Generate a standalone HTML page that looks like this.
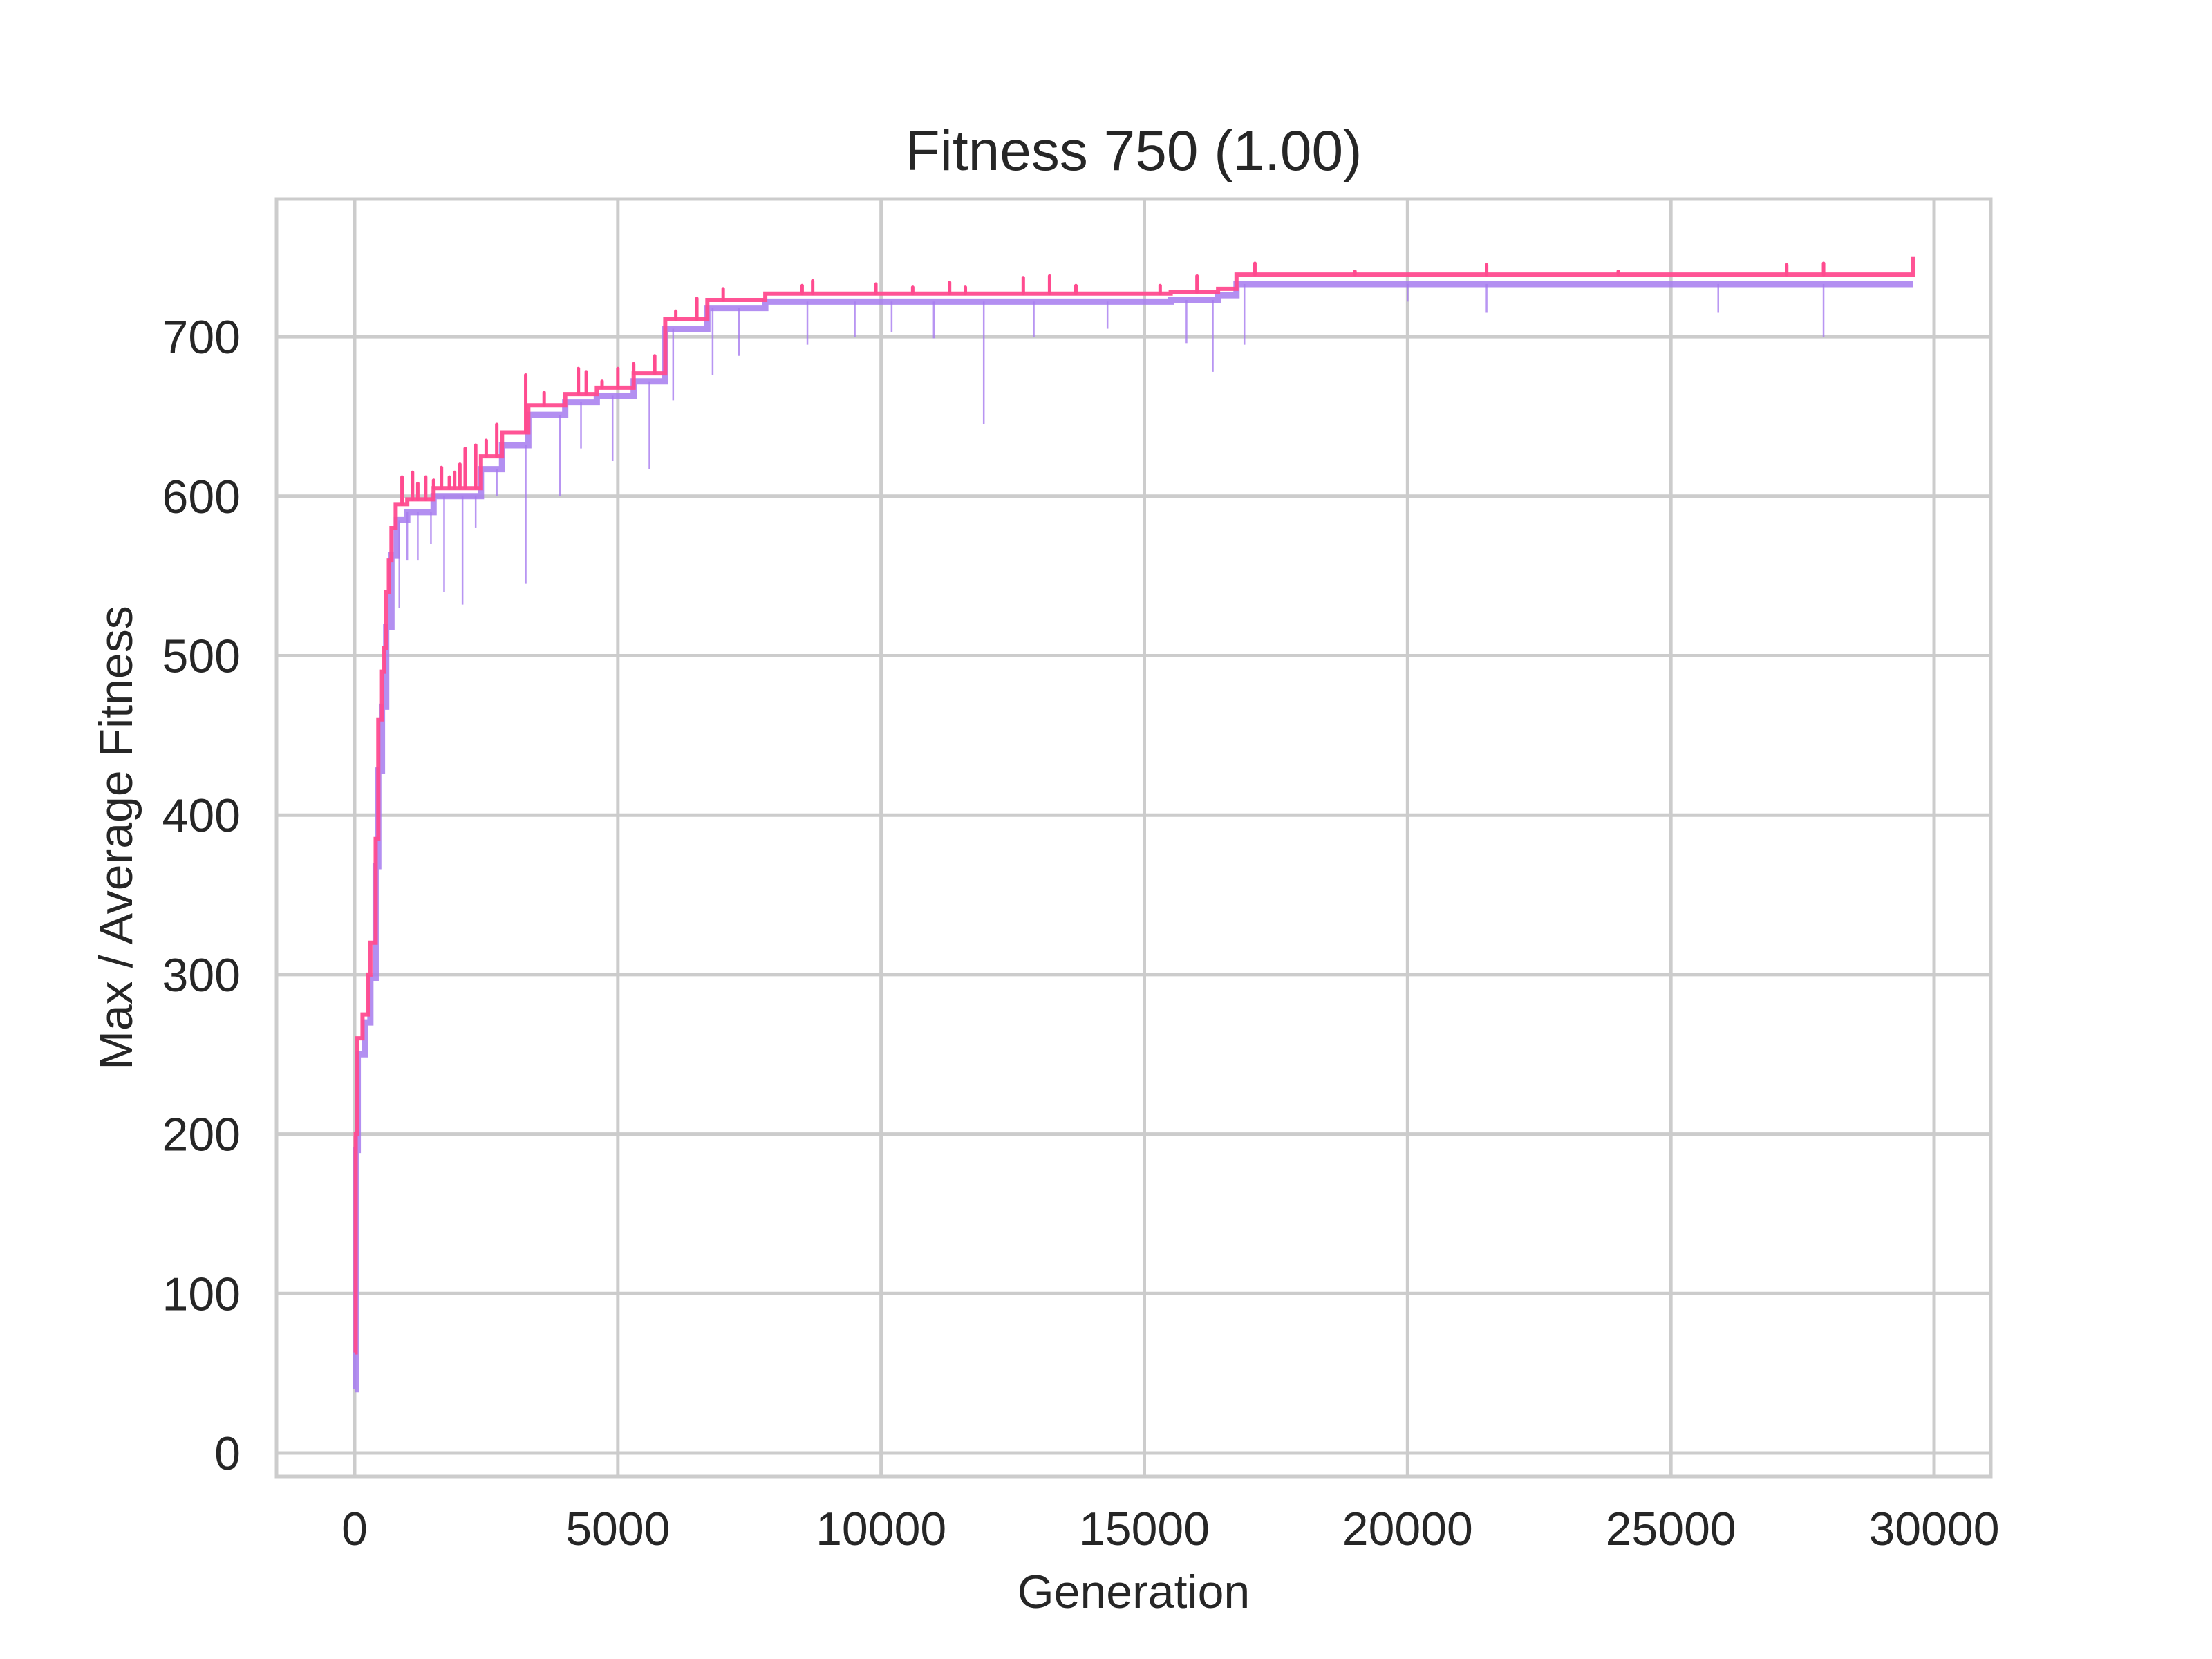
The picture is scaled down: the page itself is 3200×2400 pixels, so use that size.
<!DOCTYPE html>
<html><head><meta charset="utf-8"><style>
html,body{margin:0;padding:0;background:#fff}
svg{display:block}
text{font-family:"Liberation Sans",Arial,sans-serif;fill:#262626}
</style></head><body>
<svg id="chart" xmlns="http://www.w3.org/2000/svg" width="3200" height="2400" viewBox="0 0 3200 2400">
<rect width="3200" height="2400" fill="#fff"/>
<g id="grid"></g>
<g id="series"></g>
<rect x="400" y="288" width="2480" height="1848" fill="none" stroke="#cccccc" stroke-width="5"/>
<g id="ticks"></g>
<text x="1640" y="246" font-size="82" text-anchor="middle">Fitness 750 (1.00)</text>
<text x="1640" y="2326" font-size="68" text-anchor="middle">Generation</text>
<text transform="translate(191,1212) rotate(-90)" font-size="68" text-anchor="middle">Max / Average Fitness</text>
</svg>
<script>
const xTicks = [0, 5000, 10000, 15000, 20000, 25000, 30000];
const yTicks = [0, 100, 200, 300, 400, 500, 600, 700];
const lastGen = 29600;
// max fitness steps: [generation, value]
const maxSteps = [[0,63],[20,200],[50,260],[150,275],[250,300],[300,320],[400,385],[450,460],[520,490],[560,505],[600,540],[650,560],[700,580],[780,595],[1000,598],[1500,605],[2400,625],[2800,640],[3300,657],[4000,664],[4600,668],[5300,677],[5900,711],[6700,723],[7800,727],[15500,728],[16400,730],[16750,739],[29600,750]];
// average fitness steps: [generation, value]
const avgSteps = [[0,40],[30,190],[60,250],[200,270],[300,298],[400,368],[450,428],[520,468],[600,518],[700,563],[800,585],[1000,590],[1500,600],[2400,617],[2800,632],[3300,651],[4000,659],[4600,663],[5300,672],[5900,705],[6700,718],[7800,722],[15500,723],[16400,726],[16750,733]];
// upward spikes in max: [generation, value]
const maxSpikes = [[900,612],[1100,615],[1200,608],[1350,612],[1500,610],[1650,618],[1800,612],[1900,615],[2000,620],[2100,630],[2300,632],[2500,635],[2700,645],[3250,676],[3600,665],[4250,680],[4400,678],[4700,672],[5000,680],[5300,683],[5700,688],[6100,716],[6500,724],[7000,730],[8500,732],[8700,735],[9900,733],[10600,731],[11300,734],[11600,731],[12700,737],[13200,738],[13700,732],[15300,732],[16000,738],[17100,746],[19000,741],[21500,745],[24000,741],[27200,745],[27900,746]];
// downward dips in average: [generation, value]
const avgDips = [[850,530],[1000,560],[1200,560],[1450,570],[1700,540],[2050,532],[2300,580],[2700,600],[3250,545],[3900,600],[4300,630],[4900,622],[5600,617],[6050,660],[6800,676],[7300,688],[8600,695],[9500,700],[10200,703],[11000,699],[11950,645],[12900,700],[14300,705],[15800,696],[16300,678],[16900,695],[20000,722],[21500,715],[25900,715],[27900,700]];

const X0=513, X1=2798, Y0=2102, PER100=230.7;
function xs(g){return X0 + g*(X1-X0)/30000;}
function ys(v){return Y0 - v*PER100/100;}
const NS="http://www.w3.org/2000/svg";
function mk(tag, attrs, parent){const e=document.createElementNS(NS,tag);for(const k in attrs)e.setAttribute(k,attrs[k]);parent.appendChild(e);return e;}

const grid=document.getElementById('grid'), ticks=document.getElementById('ticks'), series=document.getElementById('series');
xTicks.forEach(t=>{
  const l=mk('line',{x1:xs(t),x2:xs(t),y1:288,y2:2136,stroke:'#cccccc','stroke-width':5},grid);
  
  
  const tx=mk('text',{x:xs(t),y:2235,'font-size':68,'text-anchor':'middle'},ticks);
  tx.textContent=String(t);
  
  
});
yTicks.forEach(t=>{
  const l=mk('line',{x1:400,x2:2880,y1:ys(t),y2:ys(t),stroke:'#cccccc','stroke-width':5},grid);
  
  
  const tx=mk('text',{x:348,y:ys(t)+24,'font-size':68,'text-anchor':'end'},ticks);
  tx.textContent=String(t);
  
  
});
function stepPath(steps,end){
  let d='';
  steps.forEach((s,i)=>{
    const x=xs(s[0]), y=ys(s[1]);
    d += (i===0?'M':'L')+x+','+(i===0?y:ys(steps[i-1][1]))+' L'+x+','+y+' ';
  });
  d+='L'+xs(end)+','+ys(steps[steps.length-1][1]);
  return d;
}
const avgBand=mk('path',{d:stepPath(avgSteps,lastGen),fill:'none',stroke:'#a67bef','stroke-width':9,'stroke-opacity':0.85},series);


avgDips.forEach(p=>{
  let base=avgSteps[0][1];
  avgSteps.forEach(s=>{if(s[0]<=p[0])base=s[1];});
  const l=mk('line',{x1:xs(p[0]),x2:xs(p[0]),y1:ys(base),y2:ys(p[1]),stroke:'#a67bef','stroke-width':2.5,'stroke-opacity':0.8},series);
  
  
});
const maxLine=mk('path',{d:stepPath(maxSteps,lastGen),fill:'none',stroke:'#ff4b8f','stroke-width':6,'stroke-opacity':0.95},series);


maxSpikes.forEach(p=>{
  let base=maxSteps[0][1];
  maxSteps.forEach(s=>{if(s[0]<=p[0])base=s[1];});
  const l=mk('line',{x1:xs(p[0]),x2:xs(p[0]),y1:ys(base),y2:ys(p[1]),stroke:'#ff4b8f','stroke-width':5,'stroke-linecap':'round'},series);
  
  
});
</script>
</body></html>
